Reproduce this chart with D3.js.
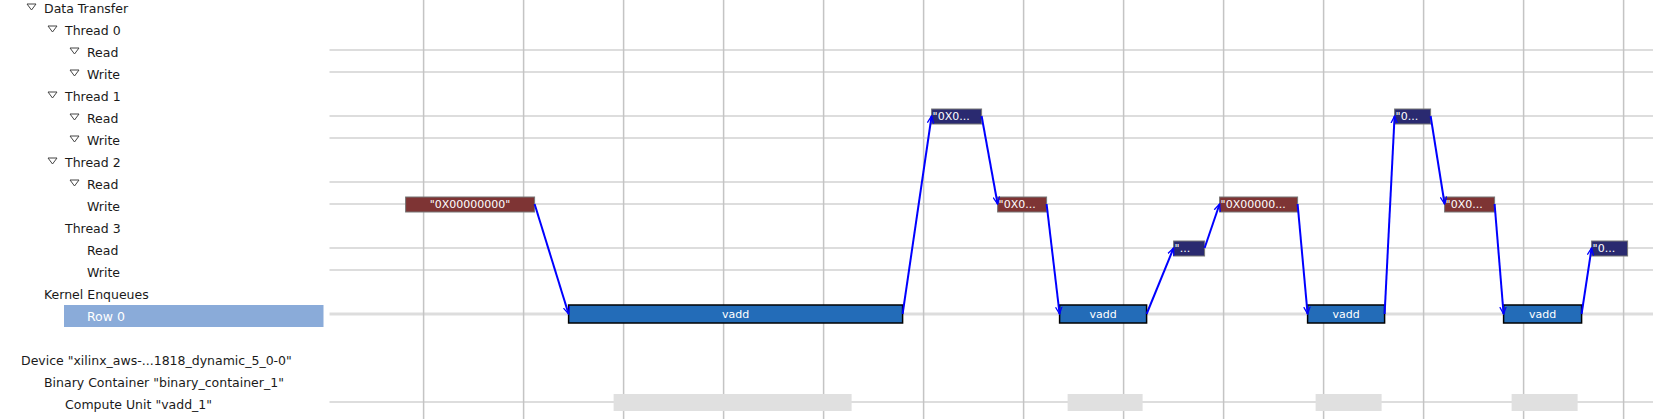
<!DOCTYPE html>
<html>
<head>
<meta charset="utf-8">
<script src="https://cdn.jsdelivr.net/npm/d3@7"></script>
<style>
  body { margin: 0; background: #fff; }
  text { font-family: "DejaVu Sans", sans-serif; }
</style>
</head>
<body>
<div id="chart"></div>
<script>
// tree rows: label, indent level, expandable
var rowLabels = ["Data Transfer", "Thread 0", "Read", "Write", "Thread 1", "Read", "Write",
    "Thread 2", "Read", "Write", "Thread 3", "Read", "Write", "Kernel Enqueues", "Row 0", "",
    "Device \"xilinx_aws-...1818_dynamic_5_0-0\"", "Binary Container \"binary_container_1\"",
    "Compute Unit \"vadd_1\""];
var rowLevels = [1, 2, 3, 3, 2, 3, 3, 2, 3, 3, 2, 3, 3, 1, 3, -1, 0, 1, 2];
var rowExpand = [1, 1, 0, 0, 1, 0, 0, 1, 0, 0, 1, 0, 0, 1, 0, 0, 1, 1, 1];
var gridRows = [2, 3, 5, 6, 8, 9, 11, 12, 14, 18];

// events on the timeline (row index, start, end, label, kind)
var evRow   = [9, 14, 5, 9, 14, 11, 9, 14, 5, 9, 14, 11];
var evStart = [0.82, 2.45, 6.08, 6.74, 7.36, 8.50, 8.96, 9.84, 10.71, 11.21, 11.80, 12.68];
var evEnd   = [2.11, 5.79, 6.58, 7.23, 8.23, 8.81, 9.74, 10.61, 11.07, 11.71, 12.58, 13.04];
var evLabel = ["\"0X00000000\"", "vadd", "\"0X0...", "\"0X0...", "vadd", "\"...",
    "\"0X00000...", "vadd", "\"0...", "\"0X0...", "vadd", "\"0..."];
var evKind  = ["write", "kernel", "read", "write", "kernel", "read",
    "write", "kernel", "read", "write", "kernel", "read"];

// compute unit activity
var cuStart = [2.90, 7.44, 9.92, 11.88];
var cuEnd   = [5.28, 8.19, 10.58, 12.54];

var gridTicks = d3.range(1, 14);

var width = 1653, height = 419;
var svg = d3.select("#chart").append("svg").attr("width", width).attr("height", height);

var x = d3.scaleLinear().domain([0, 13.3]).range([323.6, 1653.6]);
var y = function (i) { return 6 + 22 * i; };
var plotLeft = 329.5;

var colors = { write: "#7e3434", read: "#2a2a70", kernel: "#236cb8" };

// grid
svg.selectAll(".hgrid").data(gridRows).enter().append("line")
    .attr("x1", plotLeft).attr("x2", width)
    .attr("y1", function (d) { return y(d); }).attr("y2", function (d) { return y(d); })
    .attr("stroke", "#dddddd").attr("stroke-width", function (d) { return d == 14 ? 3 : 2; });
svg.selectAll(".vgrid").data(gridTicks).enter().append("line")
    .attr("x1", function (d) { return x(d); }).attr("x2", function (d) { return x(d); })
    .attr("y1", 0).attr("y2", height)
    .attr("stroke", "#c4c4c4").attr("stroke-width", 1.5);

// selected row highlight
svg.append("rect").attr("x", 64).attr("y", y(14) - 9).attr("width", plotLeft - 6 - 64).attr("height", 22)
    .attr("fill", "#8aabd9");

// tree labels
var indentX = [4, 27, 48, 70];
var tree = svg.selectAll(".row").data(rowLabels).enter().append("g");
tree.filter(function (d, i) { return rowExpand[i]; }).append("path")
    .attr("d", function (d, i) {
        var x0 = indentX[rowLevels[i]], yc = y(i) + 1;
        return "M" + x0 + "," + (yc - 3) + "L" + (x0 + 9) + "," + (yc - 3) + "L" + (x0 + 4.5) + "," + (yc + 3) + "Z";
    })
    .attr("fill", "none").attr("stroke", "#444").attr("stroke-width", 1);
tree.append("text")
    .attr("x", function (d, i) { return rowLevels[i] < 0 ? 0 : indentX[rowLevels[i]] + 17; })
    .attr("y", function (d, i) { return y(i) + 7; })
    .attr("font-size", 12.5)
    .attr("fill", function (d, i) { return i == 14 ? "#fff" : "#1a1a1a"; })
    .text(function (d) { return d; });

// compute unit bars
svg.selectAll(".cu").data(cuStart).enter().append("rect")
    .attr("x", function (d) { return x(d); })
    .attr("width", function (d, i) { return x(cuEnd[i]) - x(d); })
    .attr("y", y(18) - 8).attr("height", 17)
    .attr("fill", "#e0e0e0");

// event bars
var ev = svg.selectAll(".ev").data(evStart).enter().append("g");
ev.append("rect")
    .attr("x", function (d) { return x(d); })
    .attr("width", function (d, i) { return x(evEnd[i]) - x(d); })
    .attr("y", function (d, i) { return y(evRow[i]) - (evKind[i] == "kernel" ? 9 : 7); })
    .attr("height", function (d, i) { return evKind[i] == "kernel" ? 18 : 15; })
    .attr("fill", function (d, i) { return colors[evKind[i]]; })
    .attr("stroke", function (d, i) { return evKind[i] == "kernel" ? "#000" : "#777"; })
    .attr("stroke-width", function (d, i) { return evKind[i] == "kernel" ? 1.5 : 1; });
ev.append("text")
    .attr("x", function (d, i) {
        return evKind[i] == "kernel" || i == 0 ? (x(d) + x(evEnd[i])) / 2 : x(d) + 1;
    })
    .attr("text-anchor", function (d, i) { return evKind[i] == "kernel" || i == 0 ? "middle" : "start"; })
    .attr("y", function (d, i) { return y(evRow[i]) + 4; })
    .attr("font-size", 11).attr("fill", "#fff")
    .text(function (d, i) { return evLabel[i]; });

// dependency arrows
svg.append("defs").append("marker").attr("id", "ah")
    .attr("viewBox", "0 0 10 10").attr("refX", 9).attr("refY", 5)
    .attr("markerWidth", 8).attr("markerHeight", 8).attr("orient", "auto").attr("markerUnits", "userSpaceOnUse")
    .append("path").attr("d", "M0,1L9,5L0,9").attr("fill", "none").attr("stroke", "#0000ff").attr("stroke-width", 1.6);
svg.selectAll(".arrow").data(evStart.slice(1)).enter().append("line")
    .attr("x1", function (d, i) { return x(evEnd[i]); })
    .attr("y1", function (d, i) { return y(evRow[i]); })
    .attr("x2", function (d) { return x(d); })
    .attr("y2", function (d, i) { return y(evRow[i + 1]); })
    .attr("stroke", "#0000ff").attr("stroke-width", 2)
    .attr("marker-end", "url(#ah)");
</script>
</body>
</html>
